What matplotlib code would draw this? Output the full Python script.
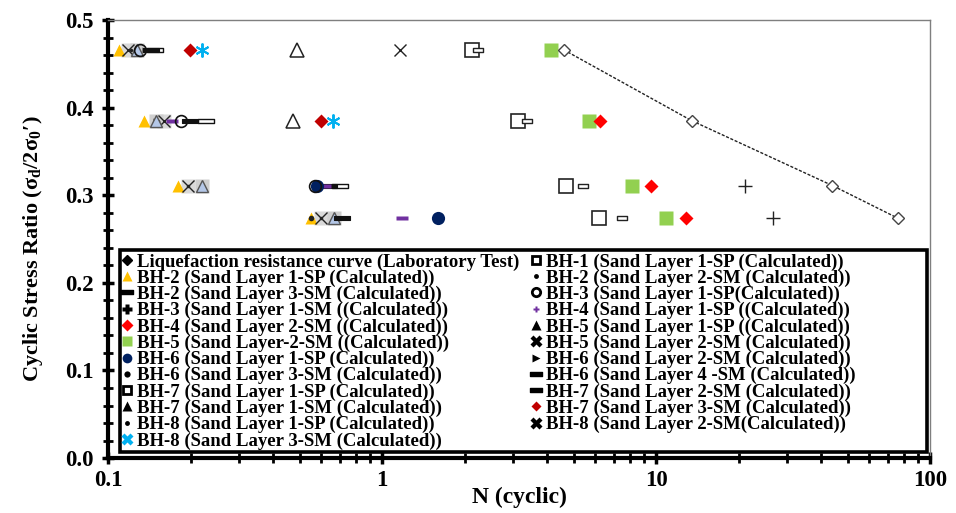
import numpy as np
import matplotlib
matplotlib.use("Agg")
import matplotlib.pyplot as plt
from matplotlib.path import Path
from matplotlib.lines import Line2D
from matplotlib.patches import Rectangle
from matplotlib.ticker import MultipleLocator, LogLocator, NullFormatter

nan = np.nan

# Cyclic stress ratio levels shared by every series
csr_levels = [0.466, 0.385, 0.311, 0.274]

# Number of cycles to liquefaction for each series (one value per CSR level)
n_lab = [4.6, 13.5, 44.0, 76.0]
n_bh1_sp1 = [2.13, 3.13, 4.69, 6.19]
n_bh2_sp1 = [0.110, 0.135, 0.180, 0.550]
n_bh2_sm2 = [0.125, 0.152, 0.195, 0.600]
n_bh2_sm3 = [0.144, 0.199, 0.640, 0.716]
n_bh3_sp1 = [0.131, 0.185, 0.570, nan]
n_bh3_sm1 = [nan, nan, 21.1, 26.7]
n_bh4_sp1 = [nan, 0.171, 0.620, 1.18]
n_bh4_sm2 = [nan, 6.25, 9.60, 12.8]
n_bh5_sp1 = [0.490, 0.473, nan, nan]
n_bh5_sm2b = [4.14, 5.69, 8.16, 10.9]
n_bh5_sm2 = [0.118, 0.160, 0.196, 0.600]
n_bh6_sp1 = [nan, nan, 0.580, 1.60]
n_bh6_sm2 = [0.136, 0.150, nan, nan]
n_bh6_sm3 = [nan, nan, nan, 0.550]
n_bh6_sm4 = [0.149, 0.228, 0.700, nan]
n_bh7_sp1 = [0.128, 0.150, 0.220, 0.670]
n_bh7_sm2 = [2.24, 3.38, 5.42, 7.50]
n_bh7_sm1 = [0.128, 0.150, 0.220, 0.670]
n_bh7_sm3 = [0.199, 0.600, nan, nan]
n_bh8_sp1 = [0.121, nan, nan, nan]
n_bh8_sm2 = [1.16, nan, nan, nan]
n_bh8_sm3 = [0.220, 0.660, nan, nan]

x_ticks = [0.1, 1, 10, 100]
x_tick_labels = ["0.1", "1", "10", "100"]
y_ticks = [0.0, 0.1, 0.2, 0.3, 0.4, 0.5]
y_tick_labels = ["0.0", "0.1", "0.2", "0.3", "0.4", "0.5"]

plt.rcParams["font.family"] = ["Liberation Serif", "DejaVu Serif"]
plt.rcParams["font.weight"] = "bold"

# horizontal bars used as "dash" markers
bar = Path([(-1, -0.32), (1, -0.32), (1, 0.32), (-1, 0.32), (-1, -0.32)],
           [Path.MOVETO, Path.LINETO, Path.LINETO, Path.LINETO, Path.CLOSEPOLY])
small_bar = Path([(-1, -0.5), (1, -0.5), (1, 0.5), (-1, 0.5), (-1, -0.5)],
                 [Path.MOVETO, Path.LINETO, Path.LINETO, Path.LINETO, Path.CLOSEPOLY])

fig = plt.figure(figsize=(9.56, 5.13), dpi=100)
ax = fig.add_axes([0.113, 0.107, 0.860, 0.854])
ax.set_xscale("log")


def pts(n, **kw):
    ax.plot(n, csr_levels, ls="none", **kw)


# laboratory curve
ax.plot(n_lab, csr_levels, ls=(0, (2.2, 1.2)), lw=1.0, color="#222222",
        marker="D", ms=6.5, mfc="white", mec="#444444", mew=1.0, zorder=6)

# light grey marker backgrounds
pts(n_bh5_sm2, marker="s", ms=10, mfc="#D9D9D9", mec="none", zorder=2)
pts(n_bh7_sp1, marker="s", ms=10, mfc="#CFCFCF", mec="none", zorder=2)

pts(n_bh1_sp1, marker="s", ms=10, mfc="white", mec="#222222", mew=1.2, zorder=3)
pts(n_bh7_sm2, marker=small_bar, ms=7, mfc="white", mec="#222222", mew=1.0, zorder=3)
pts(n_bh5_sm2b, marker="s", ms=9.5, mfc="#92D050", mec="none", zorder=3)
pts(n_bh4_sm2, marker="D", ms=7.5, mfc="#FF0000", mec="none", zorder=3)
pts(n_bh7_sm3, marker="D", ms=7.5, mfc="#C00000", mec="none", zorder=3)
pts(n_bh8_sm3, marker=(6, 2, 0), ms=10, mec="#00B0F0", mew=1.4, zorder=3)
pts(n_bh5_sp1, marker="^", ms=10, mfc="white", mec="#222222", mew=1.1, zorder=3)
pts(n_bh8_sm2, marker="x", ms=9, mec="#222222", mew=1.0, zorder=3)
pts(n_bh3_sm1, marker="+", ms=10, mec="#222222", mew=1.0, zorder=3)
pts(n_bh2_sp1, marker="^", ms=8, mfc="#FFC000", mec="none", zorder=3)
pts(n_bh5_sm2, marker="x", ms=8.5, mec="#222222", mew=1.0, zorder=4)
pts(n_bh7_sm1, marker="^", ms=8.5, mfc="#B4C7E7", mec="#555555", mew=1.0, zorder=4)
pts(n_bh2_sm2, marker="o", ms=2.5, mfc="#222222", mec="none", zorder=3)
pts(n_bh8_sp1, marker="o", ms=2.5, mfc="#222222", mec="none", zorder=3)
pts(n_bh6_sm2, marker=">", ms=4.5, mfc="#333333", mec="none", zorder=3)
pts(n_bh6_sm3, marker="o", ms=4, mfc="#222222", mec="none", zorder=3)
pts(n_bh6_sm4, marker=bar, ms=11, mfc="white", mec="#111111", mew=1.0, zorder=4)
pts(n_bh2_sm3, marker=bar, ms=11, mfc="#111111", mec="#111111", mew=0.8, zorder=4.5)
pts(n_bh4_sp1, marker=bar, ms=9, mfc="#7030A0", mec="none", zorder=5)
pts(n_bh6_sp1, marker="o", ms=9.5, mfc="#002060", mec="none", zorder=5)
pts(n_bh3_sp1, marker="o", ms=8.5, mfc="none", mec="#111111", mew=1.2, zorder=5)

ax.set_xlim(0.1, 100)
ax.set_ylim(0, 0.5)
ax.set_xticks(x_ticks, labels=x_tick_labels)
ax.set_yticks(y_ticks, labels=y_tick_labels)
ax.xaxis.set_minor_locator(LogLocator(base=10, subs=np.arange(2, 10)))
ax.xaxis.set_minor_formatter(NullFormatter())
ax.yaxis.set_minor_locator(MultipleLocator(0.02))

ax.tick_params(which="major", direction="inout", length=9, width=2.5,
               labelsize=16.5, colors="black")
ax.tick_params(which="minor", direction="inout", length=7, width=2.0)
ax.tick_params(axis="x", pad=4)
ax.tick_params(axis="y", pad=6)
for lab in ax.get_xticklabels() + ax.get_yticklabels():
    lab.set_fontweight("bold")

for s in ("left", "bottom"):
    ax.spines[s].set_linewidth(3.0)
    ax.spines[s].set_color("black")
for s in ("top", "right"):
    ax.spines[s].set_linewidth(1.0)
    ax.spines[s].set_color("#7F7F7F")

ax.set_xlabel("N (cyclic)", fontsize=17, fontweight="bold", labelpad=-3)
ax.set_ylabel("Cyclic Stress Ratio (σ$_\\mathregular{d}$/2σ$_\\mathregular{0}$′)",
              fontsize=16, fontweight="bold")
ax.yaxis.set_label_coords(-0.077, 0.478)

# legend frame
ax.add_patch(Rectangle((0.0146, 0.013), 0.982, 0.462, transform=ax.transAxes,
                       facecolor="white", edgecolor="black", lw=2.6, zorder=7))


def proxy(**kw):
    return Line2D([], [], ls="none", **kw)


entries = [
    ("Liquefaction resistance curve (Laboratory Test)",
     proxy(marker="D", ms=5, mfc="black", mec="black")),
    ("BH-2 (Sand Layer 1-SP (Calculated))",
     proxy(marker="^", ms=7, mfc="#FFC000", mec="none")),
    ("BH-2 (Sand Layer 3-SM (Calculated))",
     proxy(marker=bar, ms=8, mfc="black", mec="black")),
    ("BH-3 (Sand Layer 1-SM ((Calculated))",
     proxy(marker="P", ms=7, mfc="black", mec="none")),
    ("BH-4 (Sand Layer 2-SM ((Calculated))",
     proxy(marker="D", ms=6, mfc="#FF0000", mec="none")),
    ("BH-5 (Sand Layer-2-SM ((Calculated))",
     proxy(marker="s", ms=7, mfc="#92D050", mec="none")),
    ("BH-6 (Sand Layer 1-SP (Calculated))",
     proxy(marker="o", ms=7, mfc="#002060", mec="none")),
    ("BH-6 (Sand Layer 3-SM (Calculated))",
     proxy(marker="o", ms=4.5, mfc="black", mec="none")),
    ("BH-7 (Sand Layer 1-SP (Calculated))",
     proxy(marker="s", ms=6, mfc="white", mec="black", mew=2)),
    ("BH-7 (Sand Layer 1-SM (Calculated))",
     proxy(marker="^", ms=7, mfc="black", mec="none")),
    ("BH-8 (Sand Layer 1-SP (Calculated))",
     proxy(marker="o", ms=3.5, mfc="black", mec="none")),
    ("BH-8 (Sand Layer 3-SM (Calculated))",
     proxy(marker="X", ms=8, mfc="#00B0F0", mec="none")),
    ("BH-1 (Sand Layer 1-SP (Calculated))",
     proxy(marker="s", ms=6, mfc="white", mec="black", mew=2)),
    ("BH-2 (Sand Layer 2-SM (Calculated))",
     proxy(marker="o", ms=3.5, mfc="black", mec="none")),
    ("BH-3 (Sand Layer 1-SP(Calculated))",
     proxy(marker="o", ms=6, mfc="white", mec="black", mew=2)),
    ("BH-4 (Sand Layer 1-SP ((Calculated))",
     proxy(marker="P", ms=4.5, mfc="#7030A0", mec="none")),
    ("BH-5 (Sand Layer 1-SP ((Calculated))",
     proxy(marker="^", ms=7, mfc="black", mec="none")),
    ("BH-5 (Sand Layer 2-SM (Calculated))",
     proxy(marker="X", ms=8, mfc="black", mec="none")),
    ("BH-6 (Sand Layer 2-SM (Calculated))",
     proxy(marker=">", ms=6, mfc="black", mec="none")),
    ("BH-6 (Sand Layer 4 -SM (Calculated))",
     proxy(marker=bar, ms=8, mfc="black", mec="black")),
    ("BH-7 (Sand Layer 2-SM (Calculated))",
     proxy(marker=bar, ms=8, mfc="black", mec="black")),
    ("BH-7 (Sand Layer 3-SM (Calculated))",
     proxy(marker="D", ms=5.5, mfc="#C00000", mec="none")),
    ("BH-8 (Sand Layer 2-SM(Calculated))",
     proxy(marker="X", ms=8, mfc="black", mec="none")),
]

leg = ax.legend([h for _, h in entries], [t for t, _ in entries],
                ncol=2, loc="upper left", bbox_to_anchor=(0.014, 0.472),
                frameon=False, prop={"weight": "bold", "size": 13.5},
                handlelength=0.6, handletextpad=0.25, labelspacing=-0.055,
                columnspacing=0.55, borderpad=0.1, borderaxespad=0.0)
leg.set_zorder(8)

fig.savefig("out.png", dpi=100)
